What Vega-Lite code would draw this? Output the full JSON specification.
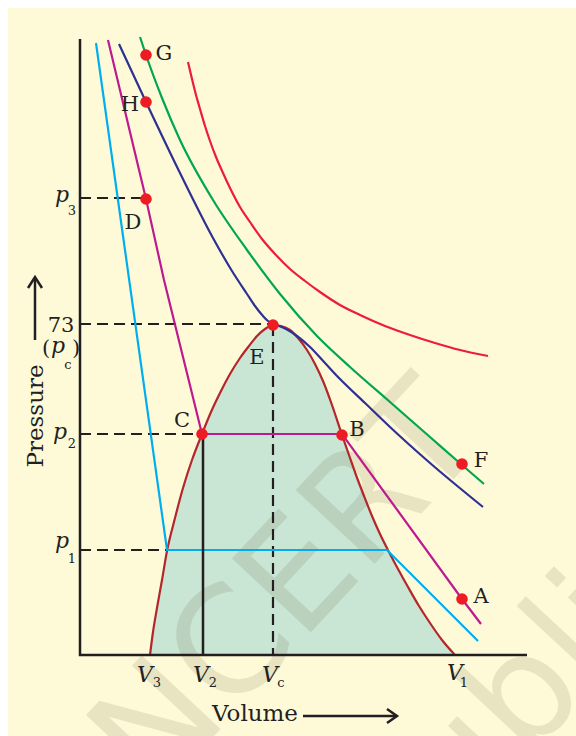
{
  "$schema": "https://vega.github.io/schema/vega-lite/v6.json",
  "width": 576,
  "height": 736,
  "autosize": "none",
  "padding": 0,
  "background": "#ffffff",
  "config": {"view": {"stroke": null}},
  "datasets": {
    "bg": [{"x": 8, "y": 8, "x2": 576, "y2": 736}],
    "wm": [
      {"x": 290, "y": 590, "t": "NCERT", "a": -47, "s": 148},
      {"x": 560, "y": 660, "t": "republished", "a": -47, "s": 148}
    ],
    "dome": [
      {"x": 150, "y": 655, "b": 655}, {"x": 153, "y": 632, "b": 655}, {"x": 157, "y": 608, "b": 655},
      {"x": 162, "y": 580, "b": 655}, {"x": 167, "y": 551, "b": 655}, {"x": 175, "y": 518, "b": 655},
      {"x": 183, "y": 488, "b": 655}, {"x": 192, "y": 460, "b": 655}, {"x": 202, "y": 434, "b": 655},
      {"x": 211, "y": 412, "b": 655}, {"x": 220, "y": 393, "b": 655}, {"x": 230, "y": 374, "b": 655},
      {"x": 240, "y": 358, "b": 655}, {"x": 249, "y": 346, "b": 655}, {"x": 257, "y": 336, "b": 655},
      {"x": 265, "y": 329, "b": 655}, {"x": 273, "y": 325, "b": 655}, {"x": 281, "y": 326, "b": 655},
      {"x": 290, "y": 330, "b": 655}, {"x": 298, "y": 338, "b": 655}, {"x": 307, "y": 350, "b": 655},
      {"x": 315, "y": 364, "b": 655}, {"x": 323, "y": 381, "b": 655}, {"x": 332, "y": 405, "b": 655},
      {"x": 342, "y": 435, "b": 655}, {"x": 349, "y": 455, "b": 655}, {"x": 356, "y": 475, "b": 655},
      {"x": 364, "y": 496, "b": 655}, {"x": 372, "y": 516, "b": 655}, {"x": 380, "y": 534, "b": 655},
      {"x": 389, "y": 552, "b": 655}, {"x": 398, "y": 569, "b": 655}, {"x": 408, "y": 587, "b": 655},
      {"x": 419, "y": 606, "b": 655}, {"x": 430, "y": 623, "b": 655}, {"x": 442, "y": 640, "b": 655},
      {"x": 455, "y": 655, "b": 655}
    ],
    "dashes": [
      {"g": "p3", "x": 80, "y": 198}, {"g": "p3", "x": 145, "y": 198},
      {"g": "pc", "x": 80, "y": 324}, {"g": "pc", "x": 272, "y": 324},
      {"g": "p2", "x": 80, "y": 434}, {"g": "p2", "x": 202, "y": 434},
      {"g": "p1", "x": 80, "y": 550}, {"g": "p1", "x": 167, "y": 550},
      {"g": "vc", "x": 273, "y": 325}, {"g": "vc", "x": 273, "y": 655}
    ],
    "solid": [
      {"g": "axis", "o": 1, "x": 80, "y": 39}, {"g": "axis", "o": 2, "x": 80, "y": 655}, {"g": "axis", "o": 3, "x": 527, "y": 655},
      {"g": "v2", "o": 1, "x": 203, "y": 434}, {"g": "v2", "o": 2, "x": 203, "y": 655},
      {"g": "parr", "o": 1, "x": 35, "y": 340}, {"g": "parr", "o": 2, "x": 35, "y": 278},
      {"g": "parh", "o": 1, "x": 28, "y": 288}, {"g": "parh", "o": 2, "x": 35, "y": 277}, {"g": "parh", "o": 3, "x": 42, "y": 288},
      {"g": "varr", "o": 1, "x": 303, "y": 716}, {"g": "varr", "o": 2, "x": 397, "y": 716},
      {"g": "varh", "o": 1, "x": 387, "y": 709}, {"g": "varh", "o": 2, "x": 397, "y": 716}, {"g": "varh", "o": 3, "x": 387, "y": 723}
    ],
    "straight": [
      {"c": "cyan", "o": 1, "x": 96, "y": 43}, {"c": "cyan", "o": 2, "x": 167, "y": 550},
      {"c": "cyan", "o": 3, "x": 387, "y": 550}, {"c": "cyan", "o": 4, "x": 478, "y": 641},
      {"c": "magenta", "o": 1, "x": 108, "y": 40}, {"c": "magenta", "o": 2, "x": 146, "y": 199},
      {"c": "magenta", "o": 3, "x": 164, "y": 280}, {"c": "magenta", "o": 4, "x": 202, "y": 434},
      {"c": "magenta", "o": 5, "x": 342, "y": 434}, {"c": "magenta", "o": 6, "x": 462, "y": 599},
      {"c": "magenta", "o": 7, "x": 481, "y": 624}
    ],
    "smooth": [
      {"c": "navy", "x": 119, "y": 44}, {"c": "navy", "x": 146, "y": 102}, {"c": "navy", "x": 180, "y": 173},
      {"c": "navy", "x": 213, "y": 238}, {"c": "navy", "x": 232, "y": 271}, {"c": "navy", "x": 247, "y": 294},
      {"c": "navy", "x": 255, "y": 306}, {"c": "navy", "x": 263, "y": 316}, {"c": "navy", "x": 268, "y": 321},
      {"c": "navy", "x": 273, "y": 324}, {"c": "navy", "x": 279, "y": 326}, {"c": "navy", "x": 286, "y": 329},
      {"c": "navy", "x": 297, "y": 336}, {"c": "navy", "x": 310, "y": 347}, {"c": "navy", "x": 325, "y": 363},
      {"c": "navy", "x": 340, "y": 379}, {"c": "navy", "x": 365, "y": 403}, {"c": "navy", "x": 390, "y": 427},
      {"c": "navy", "x": 430, "y": 463}, {"c": "navy", "x": 483, "y": 507},
      {"c": "green", "x": 140, "y": 37}, {"c": "green", "x": 146, "y": 55}, {"c": "green", "x": 162, "y": 98},
      {"c": "green", "x": 180, "y": 140}, {"c": "green", "x": 213, "y": 200}, {"c": "green", "x": 247, "y": 250},
      {"c": "green", "x": 280, "y": 294}, {"c": "green", "x": 317, "y": 336}, {"c": "green", "x": 350, "y": 367},
      {"c": "green", "x": 390, "y": 402}, {"c": "green", "x": 430, "y": 437}, {"c": "green", "x": 462, "y": 465},
      {"c": "green", "x": 484, "y": 484},
      {"c": "red", "x": 188, "y": 62}, {"c": "red", "x": 192, "y": 79}, {"c": "red", "x": 196, "y": 95},
      {"c": "red", "x": 200, "y": 109}, {"c": "red", "x": 205, "y": 126}, {"c": "red", "x": 210, "y": 141},
      {"c": "red", "x": 216, "y": 157}, {"c": "red", "x": 223, "y": 173}, {"c": "red", "x": 230, "y": 188},
      {"c": "red", "x": 240, "y": 207}, {"c": "red", "x": 250, "y": 222}, {"c": "red", "x": 262, "y": 239},
      {"c": "red", "x": 275, "y": 254}, {"c": "red", "x": 290, "y": 269}, {"c": "red", "x": 305, "y": 281},
      {"c": "red", "x": 320, "y": 292}, {"c": "red", "x": 340, "y": 305}, {"c": "red", "x": 360, "y": 315},
      {"c": "red", "x": 385, "y": 326}, {"c": "red", "x": 410, "y": 335}, {"c": "red", "x": 435, "y": 343},
      {"c": "red", "x": 460, "y": 350}, {"c": "red", "x": 488, "y": 356}
    ],
    "points": [
      {"n": "G", "x": 146, "y": 55}, {"n": "H", "x": 146, "y": 102}, {"n": "D", "x": 146, "y": 199},
      {"n": "E", "x": 273, "y": 325}, {"n": "C", "x": 202, "y": 434}, {"n": "B", "x": 342, "y": 435},
      {"n": "F", "x": 462, "y": 464}, {"n": "A", "x": 462, "y": 599}
    ],
    "labels": [
      {"t": "G", "x": 164, "y": 60}, {"t": "H", "x": 130, "y": 111}, {"t": "D", "x": 133, "y": 229},
      {"t": "E", "x": 257, "y": 364}, {"t": "C", "x": 182, "y": 427}, {"t": "B", "x": 357, "y": 436},
      {"t": "F", "x": 481, "y": 467}, {"t": "A", "x": 481, "y": 603},
      {"t": "73", "x": 61, "y": 332}, {"t": "(", "x": 46, "y": 355}, {"t": ")", "x": 76, "y": 355}
    ],
    "italic": [
      {"t": "p", "x": 62, "y": 202}, {"t": "p", "x": 60, "y": 439}, {"t": "p", "x": 62, "y": 548},
      {"t": "p", "x": 58, "y": 353},
      {"t": "V", "x": 145, "y": 682}, {"t": "V", "x": 201, "y": 682}, {"t": "V", "x": 270, "y": 682},
      {"t": "V", "x": 455, "y": 680}
    ],
    "subs": [
      {"t": "3", "x": 72, "y": 215}, {"t": "2", "x": 72, "y": 448}, {"t": "1", "x": 72, "y": 563},
      {"t": "c", "x": 68, "y": 369},
      {"t": "3", "x": 157, "y": 687}, {"t": "2", "x": 213, "y": 687}, {"t": "c", "x": 281, "y": 687},
      {"t": "1", "x": 464, "y": 687}
    ],
    "titles": [
      {"t": "Volume", "x": 255, "y": 721, "a": 0},
      {"t": "Pressure", "x": 43, "y": 416, "a": -90}
    ]
  },
  "encoding": {
    "x": {"field": "x", "type": "quantitative", "scale": {"domain": [0, 576], "nice": false, "zero": false}, "axis": null},
    "y": {"field": "y", "type": "quantitative", "scale": {"domain": [736, 0], "nice": false, "zero": false}, "axis": null}
  },
  "layer": [
    {
      "data": {"name": "bg"},
      "mark": {"type": "rect", "fill": "#fefad8"},
      "encoding": {"x2": {"field": "x2"}, "y2": {"field": "y2"}}
    },
    {
      "data": {"name": "dome"},
      "mark": {"type": "area", "fill": "#c9e5d4", "interpolate": "monotone"},
      "encoding": {"y2": {"field": "b"}}
    },
    {
      "data": {"name": "wm"},
      "mark": {"type": "text", "font": "DejaVu Sans", "fill": "#5a5030", "opacity": 0.13, "align": "center", "baseline": "middle"},
      "encoding": {"text": {"field": "t"}, "angle": {"field": "a", "type": "quantitative", "scale": null}, "size": {"field": "s", "type": "quantitative", "scale": null}}
    },
    {
      "data": {"name": "dome"},
      "mark": {"type": "line", "stroke": "#b3262c", "strokeWidth": 2.2, "interpolate": "monotone"},
      "encoding": {}
    },
    {
      "data": {"name": "dashes"},
      "mark": {"type": "line", "stroke": "#231f20", "strokeWidth": 2.2, "strokeDash": [11, 6]},
      "encoding": {"detail": {"field": "g"}}
    },
    {
      "data": {"name": "straight"},
      "mark": {"type": "line", "strokeWidth": 2.2},
      "encoding": {
        "color": {"field": "c", "type": "nominal", "scale": {"domain": ["cyan", "magenta"], "range": ["#00aeef", "#bd1a8f"]}, "legend": null},
        "order": {"field": "o", "type": "quantitative"}
      }
    },
    {
      "data": {"name": "smooth"},
      "mark": {"type": "line", "strokeWidth": 2.2, "interpolate": "monotone"},
      "encoding": {
        "stroke": {"field": "c", "type": "nominal", "scale": {"domain": ["navy", "green", "red"], "range": ["#2e3192", "#00a651", "#ed1c3c"]}, "legend": null}
      }
    },
    {
      "data": {"name": "solid"},
      "mark": {"type": "line", "stroke": "#231f20", "strokeWidth": 2.5},
      "encoding": {"detail": {"field": "g"}, "order": {"field": "o", "type": "quantitative"}}
    },
    {
      "data": {"name": "points"},
      "mark": {"type": "circle", "fill": "#ed1c24", "opacity": 1, "size": 135}
    },
    {
      "data": {"name": "labels"},
      "mark": {"type": "text", "font": "DejaVu Serif", "fontSize": 21, "fill": "#231f20", "align": "center", "baseline": "alphabetic"},
      "encoding": {"text": {"field": "t"}}
    },
    {
      "data": {"name": "italic"},
      "mark": {"type": "text", "font": "DejaVu Serif", "fontStyle": "italic", "fontSize": 22, "fill": "#231f20", "align": "center", "baseline": "alphabetic"},
      "encoding": {"text": {"field": "t"}}
    },
    {
      "data": {"name": "subs"},
      "mark": {"type": "text", "font": "DejaVu Serif", "fontSize": 13, "fill": "#231f20", "align": "center", "baseline": "alphabetic"},
      "encoding": {"text": {"field": "t"}}
    },
    {
      "data": {"name": "titles"},
      "mark": {"type": "text", "font": "DejaVu Serif", "fontSize": 23, "fill": "#231f20", "align": "center", "baseline": "alphabetic"},
      "encoding": {"text": {"field": "t"}, "angle": {"field": "a", "type": "quantitative", "scale": null}}
    }
  ]
}
